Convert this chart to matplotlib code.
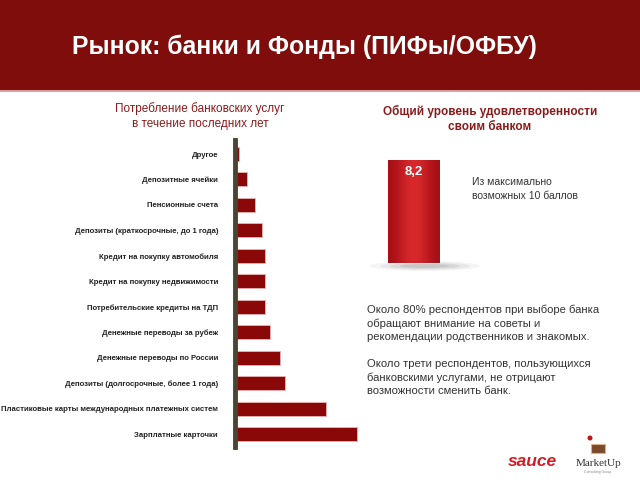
import numpy as np
import matplotlib
matplotlib.use("Agg")
import matplotlib.pyplot as plt
from matplotlib.patches import Rectangle, Ellipse

plt.rcParams['font.family'] = ['Liberation Sans', 'DejaVu Sans']

# data
services = ["Другое", "Депозитные ячейки", "Пенсионные счета",
            "Депозиты (краткосрочные, до 1 года)", "Кредит на покупку автомобиля",
            "Кредит на покупку недвижимости", "Потребительские кредиты на ТДП",
            "Денежные переводы за рубеж", "Денежные переводы по России",
            "Депозиты (долгосрочные, более 1 года)",
            "Пластиковые карты международных платежных систем",
            "Зарплатные карточки"]
usage = [1.5, 4, 6.5, 9, 10, 10, 10, 11.5, 15, 16.5, 30, 40]

score = 8.2
score_max = 10

title = "Рынок: банки и Фонды (ПИФы/ОФБУ)"
left_sub = "Потребление банковских услуг\nв течение последних лет"
right_sub = "Общий уровень удовлетворенности\nсвоим банком"
score_note = "Из максимально\nвозможных 10 баллов"
notes = ("Около 80% респондентов при выборе банка\n"
         "обращают внимание на советы и\n"
         "рекомендации родственников и знакомых.\n\n"
         "Около трети респондентов, пользующихся\n"
         "банковскими услугами, не отрицают\n"
         "возможности сменить банк.")

W, H = 640, 480
fig = plt.figure(figsize=(6.4, 4.8), dpi=100)
fig.patch.set_facecolor("white")

def fx(px):
    return px / W

def fy(py):
    return 1 - py / H

# header band
fig.patches.append(Rectangle((0, fy(90)), 1, 90 / H, transform=fig.transFigure,
                             facecolor="#7e0d0b", edgecolor="none", zorder=0))
fig.patches.append(Rectangle((0, fy(91.5)), 1, 1.5 / H, transform=fig.transFigure,
                             facecolor="#d9a0a0", edgecolor="none", zorder=0))
fig.text(fx(72), fy(47), title, color="white", fontsize=17.8, fontweight="bold",
         va="center", ha="left")

# subtitles
fig.text(fx(200), fy(116), left_sub, color="#8b1a1a", fontsize=8.5,
         ha="center", va="center", linespacing=1.25)
fig.text(fx(490), fy(119), right_sub, color="#8b1a1a", fontsize=8.5,
         fontweight="bold", ha="center", va="center", linespacing=1.25)

# left horizontal bar chart
ax = fig.add_axes([fx(234.7), fy(447), fx(128), 307 / H])
ypos = np.arange(len(services))
ax.barh(ypos, usage, height=0.55, color="#8a0808", edgecolor="#e9b5b5",
        linewidth=0.6, zorder=2)
ax.set_ylim(11.5, -0.55)
ax.set_xlim(0, 42)
ax.set_yticks(ypos)
ax.set_yticklabels(services, fontsize=5.6, fontweight="bold", color="#222222")
ax.tick_params(axis="y", length=0, pad=12)
ax.set_xticks([])
for s in ["top", "right", "bottom"]:
    ax.spines[s].set_visible(False)
ax.spines["left"].set_color("#4a4532")
ax.spines["left"].set_linewidth(3.5)
ax.set_facecolor("none")

# right single bar
ax2 = fig.add_axes([fx(388), fy(263), fx(52), 103 / H])
ax2.set_xlim(-0.5, 0.5)
ax2.set_ylim(0, score)
bars = ax2.bar([0], [score], width=1.0, color="#c3161c", edgecolor="none", zorder=2)
grad = np.linspace(0, 1, 100)
grad = np.vstack([np.sin(grad * np.pi) ** 2] * 2)
im = ax2.imshow(grad, extent=(-0.5, 0.5, 0, score), aspect="auto",
                cmap=matplotlib.colors.LinearSegmentedColormap.from_list(
                    "g", ["#a81016", "#d8282c"]), zorder=3)
im.set_clip_path(bars[0])
ax2.text(0, score - 0.95, "8,2", color="white", fontsize=9.5, fontweight="bold",
         ha="center", va="center", zorder=4)
ax2.axis("off")

# soft shadow under the bar
for i, a in enumerate([0.06, 0.08, 0.1, 0.12]):
    fig.patches.append(Ellipse((fx(425), fy(266)), fx(110 - i * 20), (10 - i * 2) / H,
                               transform=fig.transFigure, facecolor="#555555",
                               edgecolor="none", alpha=a, zorder=0))

fig.text(fx(472), fy(189), score_note, color="#333333", fontsize=7.5,
         ha="left", va="center", linespacing=1.4)

fig.text(fx(367), fy(305), notes, color="#333333", fontsize=8.1,
         ha="left", va="top", linespacing=1.4)

# logos
fig.text(fx(532), fy(462), "sauce", color="#d01d24", fontsize=12.5,
         fontweight="bold", fontstyle="italic", ha="center", va="center")
fig.text(fx(598), fy(463), "MarketUp", color="#333333", fontsize=8,
         family="Liberation Serif", ha="center", va="center")
fig.text(fx(598), fy(472), "Consulting Group", color="#888888", fontsize=2.5,
         ha="center", va="center")
fig.patches.append(Rectangle((fx(591), fy(453)), fx(14), 9 / H, transform=fig.transFigure,
                             facecolor="#7a4a2a", edgecolor="#d9b48a", linewidth=0.8))
fig.patches.append(Ellipse((fx(590), fy(438)), fx(5), 5 / H, transform=fig.transFigure,
                           facecolor="#c0161a", edgecolor="none"))

fig.savefig("out.png", dpi=100)
